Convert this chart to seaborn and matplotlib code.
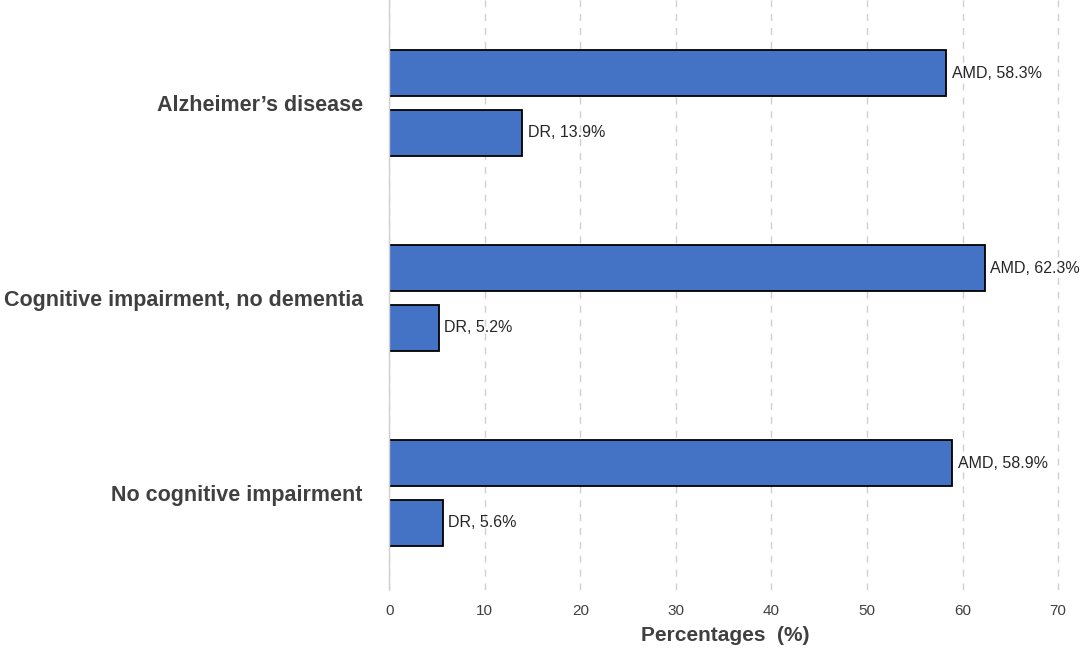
import matplotlib
matplotlib.use("Agg")
import matplotlib.pyplot as plt
import seaborn as sns
import pandas as pd

categories = ["Alzheimer\u2019s disease", "Cognitive impairment, no dementia", "No cognitive impairment"]
series = ["AMD", "DR"]
amd_values = [58.3, 62.3, 58.9]
dr_values = [13.9, 5.2, 5.6]
x_ticks = [0, 10, 20, 30, 40, 50, 60, 70]

rows = []
for c, a, d in zip(categories, amd_values, dr_values):
    rows.append({"group": c, "condition": "AMD", "value": a})
    rows.append({"group": c, "condition": "DR", "value": d})
df = pd.DataFrame(rows)

sns.set_style("white")
plt.rcParams["font.family"] = ["Liberation Sans", "DejaVu Sans"]

fig = plt.figure(figsize=(10.84, 6.55), dpi=100)
ax = fig.add_axes([0.359, 0.099, 0.6198, 0.901])

sns.barplot(data=df, y="group", x="value", hue="condition", order=categories,
            hue_order=series, palette=["#4472C4", "#4472C4"], width=0.61, gap=0.226,
            edgecolor="black", linewidth=1.3, orient="h", legend=False, ax=ax,
            errorbar=None, saturation=1)

for cont, name in zip(ax.containers, series):
    labels = [f"{name}, {v:.1f}%" for v in cont.datavalues]
    ax.bar_label(cont, labels=labels, padding=4, fontsize=11.5, color="#262626")

ax.set_xlim(0, 70.3)
ax.set_ylim(2.497, -0.528)
ax.set_xticks(x_ticks)
ax.tick_params(axis="x", labelsize=11, labelcolor="#404040", length=0, pad=10)
ax.tick_params(axis="y", labelsize=15.5, labelcolor="#404040", length=0, pad=19)
for lab in ax.get_yticklabels():
    lab.set_fontweight("bold")
ax.set_ylabel("")
ax.set_xlabel("Percentages  (%)", fontsize=15, fontweight="bold", color="#404040", labelpad=6)

ax.grid(axis="x", linestyle=(0, (5, 5)), color="#d0d0d0", linewidth=1)
ax.set_axisbelow(True)
for s in ["top", "right", "bottom"]:
    ax.spines[s].set_visible(False)
ax.spines["left"].set_color("#d0d0d0")
ax.spines["left"].set_linewidth(1)

fig.savefig("out.png", dpi=100)
